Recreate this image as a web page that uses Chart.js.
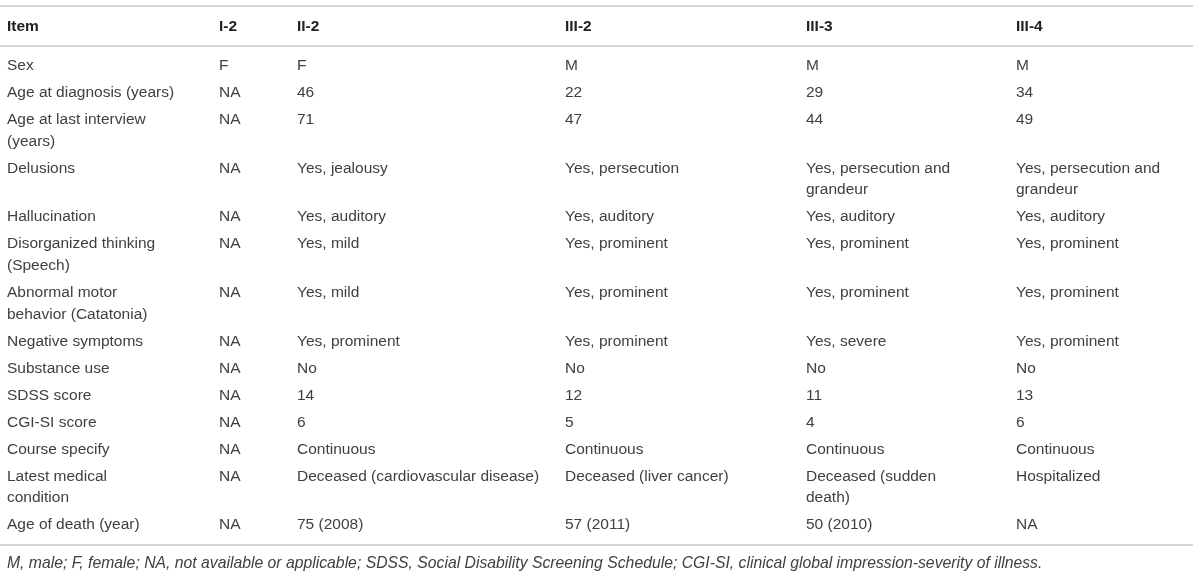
<!DOCTYPE html>
<html>
<head>
<meta charset="utf-8">
<script src="https://cdn.jsdelivr.net/npm/chart.js@4.4.1/dist/chart.umd.min.js"></script>
<style>
  body { margin: 0; background: #fff; }
</style>
</head>
<body>
<canvas id="tbl" width="1200" height="575"></canvas>
<script>
// table content, one array per column ('\n' = wrapped line)
const headers = ['Item', 'I-2', 'II-2', 'III-2', 'III-3', 'III-4'];
const items = ['Sex', 'Age at diagnosis (years)', 'Age at last interview\n(years)', 'Delusions', 'Hallucination',
    'Disorganized thinking\n(Speech)', 'Abnormal motor\nbehavior (Catatonia)', 'Negative symptoms', 'Substance use',
    'SDSS score', 'CGI-SI score', 'Course specify', 'Latest medical\ncondition', 'Age of death (year)'];
const colI2 = ['F', 'NA', 'NA', 'NA', 'NA', 'NA', 'NA', 'NA', 'NA', 'NA', 'NA', 'NA', 'NA', 'NA'];
const colII2 = ['F', '46', '71', 'Yes, jealousy', 'Yes, auditory', 'Yes, mild', 'Yes, mild', 'Yes, prominent', 'No',
    '14', '6', 'Continuous', 'Deceased (cardiovascular disease)', '75 (2008)'];
const colIII2 = ['M', '22', '47', 'Yes, persecution', 'Yes, auditory', 'Yes, prominent', 'Yes, prominent', 'Yes, prominent', 'No',
    '12', '5', 'Continuous', 'Deceased (liver cancer)', '57 (2011)'];
const colIII3 = ['M', '29', '44', 'Yes, persecution and\ngrandeur', 'Yes, auditory', 'Yes, prominent', 'Yes, prominent', 'Yes, severe', 'No',
    '11', '4', 'Continuous', 'Deceased (sudden\ndeath)', '50 (2010)'];
const colIII4 = ['M', '34', '49', 'Yes, persecution and\ngrandeur', 'Yes, auditory', 'Yes, prominent', 'Yes, prominent', 'Yes, prominent', 'No',
    '13', '6', 'Continuous', 'Hospitalized', 'NA'];
const footnote = 'M, male; F, female; NA, not available or applicable; SDSS, Social Disability Screening Schedule; CGI-SI, clinical global impression-severity of illness.';

const columns = [items, colI2, colII2, colIII2, colIII3, colIII4];

// layout: column widths in px, row spacing in "row units"
const colWidths = [212, 78, 268, 241, 210, 177];
const firstRow = 1.44;   // gap between header and first body row
const extraLine = 0.8;   // added height for each wrapped line
const FONT = '"Liberation Sans", Arial, sans-serif';

const colLeft = [];
colWidths.reduce(function (acc, w) { colLeft.push(acc); return acc + w; }, 7);

const rowPos = [];
let pos = firstRow;
items.forEach(function (item, r) {
    rowPos.push(pos);
    const lines = Math.max.apply(null, columns.map(c => c[r].split('\n').length));
    pos += 1 + extraLine * (lines - 1);
});
const lastRow = rowPos[rowPos.length - 1];

// each cell is a (hidden) point, header sits at y = 0
const datasets = columns.map(function (col, c) {
    return {
        label: headers[c],
        data: [{ x: colLeft[c], y: 0 }].concat(col.map((v, r) => ({ x: colLeft[c], y: rowPos[r] }))),
        pointRadius: 0,
        showLine: false
    };
});

const cellText = {
    id: 'cellText',
    afterDatasetsDraw(chart) {
        const ctx = chart.ctx;
        const yScale = chart.scales.y;
        const lineGap = yScale.getPixelForValue(extraLine) - yScale.getPixelForValue(0);
        const right = 1193;

        // rules
        ctx.save();
        ctx.strokeStyle = '#d6d6d6';
        ctx.lineWidth = 2;
        [-0.78, 0.7, lastRow + 0.74].forEach(function (v) {
            const y = Math.round(yScale.getPixelForValue(v));
            ctx.beginPath();
            ctx.moveTo(0, y);
            ctx.lineTo(right, y);
            ctx.stroke();
        });

        ctx.textBaseline = 'middle';
        ctx.textAlign = 'left';
        chart.data.datasets.forEach(function (ds, c) {
            const meta = chart.getDatasetMeta(c);
            meta.data.forEach(function (el, i) {
                const text = i === 0 ? headers[c] : columns[c][i - 1];
                ctx.font = (i === 0 ? 'bold ' : '') + '15.5px ' + FONT;
                ctx.fillStyle = i === 0 ? '#222' : '#404040';
                text.split('\n').forEach(function (line, k) {
                    ctx.fillText(line, el.x, el.y + k * lineGap);
                });
            });
        });

        ctx.font = 'italic 15.75px ' + FONT;
        ctx.fillStyle = '#404040';
        ctx.fillText(footnote, colLeft[0], yScale.getPixelForValue(lastRow + 1.42));
        ctx.restore();
    }
};

new Chart(document.getElementById('tbl'), {
    type: 'scatter',
    data: { datasets: datasets },
    options: {
        responsive: false,
        animation: false,
        layout: { padding: 0 },
        scales: {
            x: { type: 'linear', display: false, min: 0, max: 1200 },
            y: { type: 'linear', display: false, reverse: true, min: -1, max: -1 + 575 / 27 }
        },
        plugins: {
            legend: { display: false },
            tooltip: { enabled: false }
        }
    },
    plugins: [cellText]
});
</script>
</body>
</html>
